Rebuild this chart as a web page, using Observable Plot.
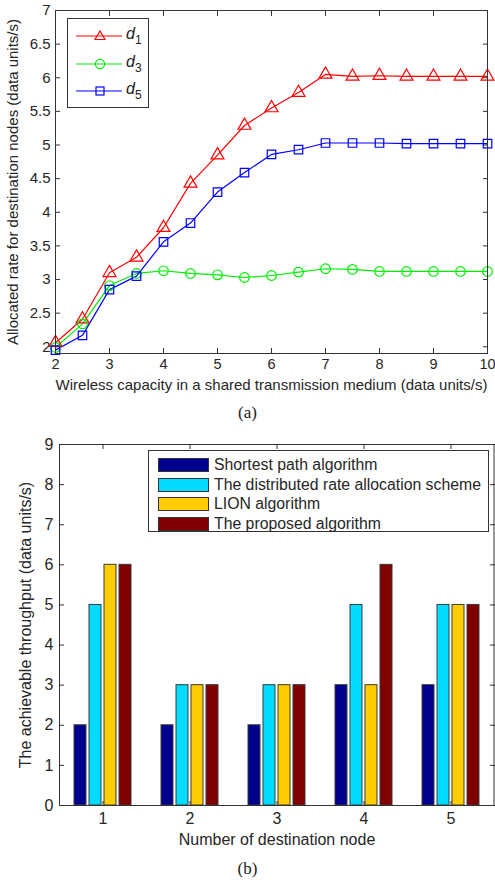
<!DOCTYPE html>
<html>
<head>
<meta charset="utf-8">
<script src="https://cdn.jsdelivr.net/npm/d3@7"></script>
<script src="https://cdn.jsdelivr.net/npm/@observablehq/plot@0.6"></script>
<style>
  body { margin: 0; background: #fff; }
  #page { position: relative; width: 495px; height: 884px; overflow: hidden; font-family: "Liberation Sans", Arial, sans-serif; color: #262626; }
  .abs { position: absolute; }
  .caption { font-family: "Liberation Serif", "Times New Roman", serif; font-size: 17px; color: #222; width: 495px; text-align: center; }
  .legend { position: absolute; background: #fff; border: 1px solid #333; box-sizing: border-box; }
  .lrow { position: absolute; left: 0; height: 20px; display: flex; align-items: center; }
</style>
</head>
<body>
<div id="page">
  <div id="chartA" class="abs" style="left:0;top:0"></div>
  <div class="caption abs" style="top:403px">(a)</div>
  <div id="chartB" class="abs" style="left:0;top:430px"></div>
  <div class="caption abs" style="top:859px">(b)</div>
</div>
<script>
// ---------- Chart (a) data ----------
const capacity = [2, 2.5, 3, 3.5, 4, 4.5, 5, 5.5, 6, 6.5, 7, 7.5, 8, 8.5, 9, 9.5, 10];
const d1 = [2.06, 2.41, 3.10, 3.33, 3.77, 4.43, 4.85, 5.29, 5.55, 5.78, 6.05, 6.02, 6.03, 6.02, 6.02, 6.02, 6.02];
const d3 = [1.99, 2.34, 2.91, 3.09, 3.13, 3.09, 3.07, 3.03, 3.06, 3.11, 3.16, 3.15, 3.12, 3.12, 3.12, 3.12, 3.12];
const d5 = [1.95, 2.17, 2.85, 3.05, 3.56, 3.84, 4.30, 4.59, 4.86, 4.93, 5.03, 5.03, 5.03, 5.02, 5.02, 5.02, 5.02];
const seriesA = ["d1", "d3", "d5"];
const seriesASub = ["1", "3", "5"];
const colorsA = ["#ff0000", "#00ee00", "#0000ff"];
const symbolsA = ["triangle", "circle", "square"];
const xTicksA = [2, 3, 4, 5, 6, 7, 8, 9, 10];
const yTicksA = [2, 2.5, 3, 3.5, 4, 4.5, 5, 5.5, 6, 6.5, 7];

// ---------- Chart (b) data ----------
const nodes = [1, 2, 3, 4, 5];
const algorithms = ["Shortest path algorithm", "The distributed rate allocation scheme", "LION algorithm", "The proposed algorithm"];
const shortestPath = [2, 2, 2, 3, 3];
const distributed = [5, 3, 3, 5, 5];
const lion = [6, 3, 3, 3, 5];
const proposed = [6, 3, 3, 6, 5];
const colorsB = ["#00008c", "#00dcff", "#ffcc00", "#800000"];
const yTicksB = [0, 1, 2, 3, 4, 5, 6, 7, 8, 9];

// ---------- Build tables ----------
const seriesValues = [d1, d3, d5];
const lineData = [];
seriesA.forEach((s, i) => capacity.forEach((c, j) => lineData.push({series: s, x: c, y: seriesValues[i][j]})));

const barValues = [shortestPath, distributed, lion, proposed];
const barData = [];
nodes.forEach((n, j) => algorithms.forEach((a, i) => barData.push({node: n, alg: a, value: barValues[i][j]})));

const ink = "#333";
const font = {fontFamily: "Liberation Sans, Arial, sans-serif", fontSize: "15px", color: "#262626", background: "transparent", overflow: "visible"};

// ---------- Chart (a) ----------
const chartA = Plot.plot({
  width: 495, height: 395,
  marginLeft: 55, marginRight: 8, marginTop: 10, marginBottom: 42,
  style: font,
  x: {domain: [2, 10]},
  y: {domain: [1.9, 7]},
  color: {domain: seriesA, range: colorsA},
  symbol: {domain: seriesA, range: symbolsA},
  marks: [
    Plot.axisX({ticks: xTicksA, tickSize: 0, tickPadding: 5, fontSize: 14.5, label: null}),
    Plot.axisX({ticks: [], tickSize: 0, label: "Wireless capacity in a shared transmission medium (data units/s)", labelAnchor: "center", labelOffset: 36, labelArrow: "none"}),
    Plot.axisX({ticks: xTicksA, tickSize: -5, text: null, label: null, stroke: ink}),
    Plot.axisX({anchor: "top", ticks: xTicksA, tickSize: -5, text: null, label: null, stroke: ink}),
    Plot.axisY({ticks: yTicksA, tickSize: 0, tickPadding: 5, tickFormat: d => String(d), label: "Allocated rate for destination nodes (data units/s)", labelAnchor: "center", labelOffset: 48, labelArrow: "none"}),
    Plot.axisY({ticks: yTicksA, tickSize: -5, text: null, label: null, stroke: ink}),
    Plot.axisY({anchor: "right", ticks: yTicksA, tickSize: -5, text: null, label: null, stroke: ink}),
    Plot.line(lineData, {x: "x", y: "y", z: "series", stroke: "series", strokeWidth: 1.2}),
    Plot.dot(lineData, {x: "x", y: "y", stroke: "series", symbol: "series", fill: "white", fillOpacity: 0, r: 4.8, strokeWidth: 1.2}),
    Plot.frame({stroke: ink, strokeWidth: 1})
  ]
});
document.getElementById("chartA").appendChild(chartA);

// Legend (a)
const legA = document.createElement("div");
legA.className = "legend";
Object.assign(legA.style, {left: "67px", top: "18px", width: "82px", height: "90px"});
seriesA.forEach((s, i) => {
  const row = document.createElement("div");
  row.className = "lrow";
  row.style.top = (7 + i * 27.5) + "px";
  const sym = symbolsA[i];
  let markSvg;
  if (sym === "triangle") markSvg = `<path d="M32,5 L37,13.5 L27,13.5 Z" fill="none" stroke="${colorsA[i]}" stroke-width="1.2"/>`;
  else if (sym === "circle") markSvg = `<circle cx="32" cy="10" r="4.6" fill="none" stroke="${colorsA[i]}" stroke-width="1.2"/>`;
  else markSvg = `<rect x="28" y="6" width="8" height="8" fill="none" stroke="${colorsA[i]}" stroke-width="1.2"/>`;
  row.innerHTML = `<svg width="56" height="20" style="display:block"><line x1="8" y1="10" x2="54" y2="10" stroke="${colorsA[i]}" stroke-width="1.2"/>${markSvg}</svg>` +
    `<span style="font-style:italic;font-size:16px;margin-left:2px;color:#222">d<sub style="font-style:normal;font-size:12px;vertical-align:-5px">${seriesASub[i]}</sub></span>`;
  legA.appendChild(row);
});
document.getElementById("page").appendChild(legA);

// ---------- Chart (b) ----------
const chartB = Plot.plot({
  width: 495, height: 425,
  marginLeft: 58, marginRight: 0, marginTop: 14, marginBottom: 50,
  style: {...font, fontSize: "16px"},
  fx: {domain: nodes, padding: 0, label: null},
  x: {domain: algorithms, paddingInner: 0.23, paddingOuter: 0.85, axis: null},
  y: {domain: [0, 9], ticks: yTicksB},
  color: {domain: algorithms, range: colorsB},
  marks: [
    Plot.barY(barData, {fx: "node", x: "alg", y: "value", fill: "alg", stroke: "#3a3a3a", strokeWidth: 1}),
    Plot.axisFx({anchor: "bottom", tickSize: 0, tickPadding: 7, label: "Number of destination node", labelAnchor: "center", labelOffset: 39, labelArrow: "none"}),
    Plot.axisFx({anchor: "bottom", tickSize: -4, text: null, label: null, stroke: ink}),
    Plot.axisFx({anchor: "top", tickSize: -4, text: null, label: null, stroke: ink}),
    Plot.axisY({ticks: yTicksB, tickSize: 0, tickPadding: 6, label: "The achievable throughput (data units/s)", labelAnchor: "center", labelOffset: 40, labelArrow: "none"}),
    Plot.axisY({ticks: yTicksB, tickSize: -5, text: null, label: null, stroke: ink}),
    Plot.axisY({anchor: "right", ticks: yTicksB, tickSize: -5, text: null, label: null, stroke: ink}),
    Plot.frame({anchor: "top", stroke: ink}),
    Plot.frame({anchor: "bottom", stroke: ink}),
    Plot.frame({anchor: "left", facetAnchor: "left", stroke: ink}),
    Plot.frame({anchor: "right", facetAnchor: "right", stroke: ink, dx: -0.5})
  ]
});
document.getElementById("chartB").appendChild(chartB);

// Legend (b)
const legB = document.createElement("div");
legB.className = "legend";
Object.assign(legB.style, {left: "148px", top: "450px", width: "341px", height: "82px"});
algorithms.forEach((a, i) => {
  const row = document.createElement("div");
  row.className = "lrow";
  row.style.top = (4 + i * 19.7) + "px";
  row.innerHTML = `<div style="margin-left:9px;width:49px;height:12px;background:${colorsB[i]};border:1px solid #333"></div>` +
    `<span style="margin-left:5px;font-size:15.8px;color:#262626;white-space:nowrap">${a}</span>`;
  legB.appendChild(row);
});
document.getElementById("page").appendChild(legB);
</script>
</body>
</html>
